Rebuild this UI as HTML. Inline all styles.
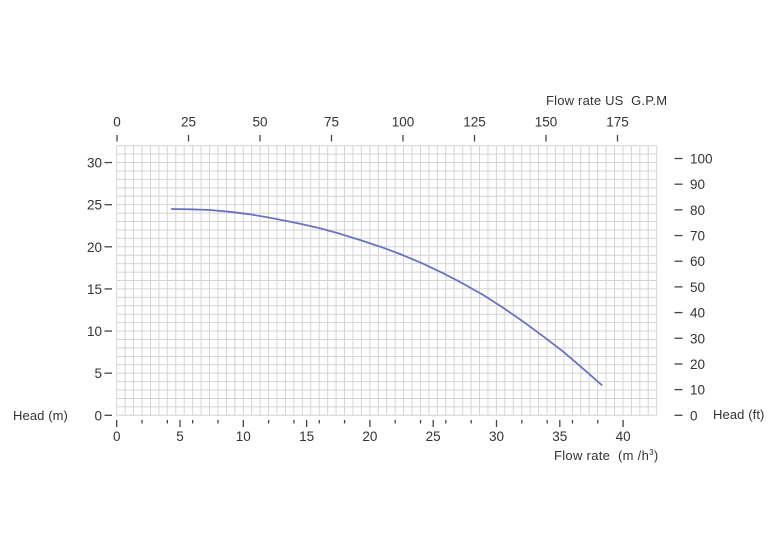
<!DOCTYPE html>
<html><head><meta charset="utf-8"><style>
html,body{margin:0;padding:0;background:#fff;}
svg{display:block;}
text{font-family:"Liberation Sans",sans-serif;fill:#333;}
.t{white-space:pre;}
</style></head><body>
<svg width="780" height="546" viewBox="0 0 780 546" xmlns="http://www.w3.org/2000/svg">
<rect width="780" height="546" fill="#fff"/>
<g id="grid" stroke="#d4d4d4" stroke-width="1" fill="none"></g>
<g id="axes" stroke="#444" stroke-width="1.3"></g>
<g id="labels" font-size="13.5"></g>
<polyline fill="none" stroke="#6a72c4" stroke-width="1.8" stroke-linejoin="round" stroke-linecap="round"
 points="171.7,209 190,209.3 210,210 230,211.8 250,214.3 268,217.4 286.7,221 303,224.4 320,228.3 340,233.8 360,240 380,246.6 400,254 422,263.2 443.3,273.3 463,283.6 483.3,295 503,307.6 523.3,321.7 543,336.2 563.3,351.7 582,367.7 601.7,385"/>
<text class="t" x="546" y="105" font-size="13" letter-spacing="0.2">Flow rate US  G.P.M</text>
<text class="t" x="554" y="460" font-size="13" letter-spacing="0.3">Flow rate  (m /h<tspan font-size="8" dy="-5">3</tspan><tspan dy="5">)</tspan></text>
<text class="t" x="13" y="420" font-size="13" letter-spacing="0.1">Head (m)</text>
<text class="t" x="713" y="419" font-size="13" letter-spacing="0.1">Head (ft)</text>
<script>
(function(){
var NS="http://www.w3.org/2000/svg";
function el(p,t,a,txt){var e=document.createElementNS(NS,t);for(var k in a)e.setAttribute(k,a[k]);if(txt!==undefined)e.textContent=txt;p.appendChild(e);return e;}
var g=document.getElementById('grid'),ax=document.getElementById('axes'),lb=document.getElementById('labels');
var x0=116.7,y0=415.3,dx=8.4375,dy=8.425,top=y0-32*dy,right=x0+64*dx;
for(var i=0;i<=64;i++){var x=x0+i*dx;el(g,'line',{x1:x,y1:top,x2:x,y2:y0});}
for(var j=0;j<=32;j++){var y=y0-j*dy;el(g,'line',{x1:x0,y1:y,x2:right,y2:y});}
var px=12.66;
for(var q=0;q<=40;q++){
  var x=x0+q*px;
  if(q%5===0){el(ax,'line',{x1:x,y1:420,x2:x,y2:427});el(lb,'text',{x:x,y:441,'text-anchor':'middle'},String(q));}
  else if(q%2===0){el(ax,'line',{x1:x,y1:420,x2:x,y2:423.5});}
}
for(var k=0;k<=7;k++){var x=117+k*71.5;el(ax,'line',{x1:x,y1:135,x2:x,y2:141.5});el(lb,'text',{x:x,y:126.5,'text-anchor':'middle'},String(k*25));}
for(var v=0;v<=30;v+=5){var y=y0-v*dy;el(ax,'line',{x1:104.5,y1:y,x2:112,y2:y});el(lb,'text',{x:102,y:y+5,'text-anchor':'end'},String(v));}
for(var f=0;f<=100;f+=10){var y=y0-f*0.3048*dy;el(ax,'line',{x1:674.5,y1:y,x2:682.5,y2:y});el(lb,'text',{x:690,y:y+5},String(f));}
})();
</script>
</svg>
</body></html>
